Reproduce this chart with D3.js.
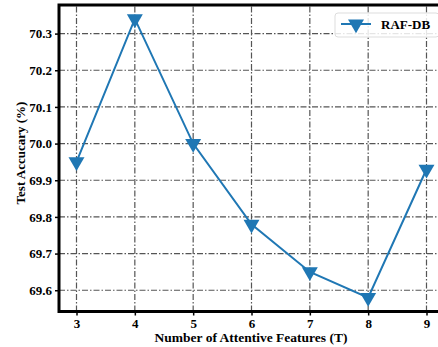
<!DOCTYPE html>
<html>
<head>
<meta charset="utf-8">
<script src="https://cdn.jsdelivr.net/npm/d3@7"></script>
<style>
  body { margin: 0; background: #fff; }
  svg { display: block; }
  svg text { font-family: "Liberation Serif", "Times New Roman", serif !important; }
</style>
</head>
<body>
<div id="chart"></div>
<script>
// dados do gráfico
const features = [3, 4, 5, 6, 7, 8, 9];
const accuracy = [69.95, 70.34, 70.00, 69.78, 69.65, 69.58, 69.93];
const yTicks = [69.6, 69.7, 69.8, 69.9, 70.0, 70.1, 70.2, 70.3];
const seriesName = "RAF-DB";

const width = 438;
const height = 347;
const margin = { top: 5, right: -6, bottom: 36, left: 59 };

const svg = d3.select("#chart")
    .append("svg")
    .attr("width", width)
    .attr("height", height);

const x = d3.scaleLinear()
    .domain([2.7, 9.3])
    .range([margin.left, width - margin.right]);

const y = d3.scaleLinear()
    .domain([69.542, 70.378])
    .range([height - margin.bottom + 0.5, margin.top]);

const gridColor = "#555";
const dash = "6,2,1.5,2";

// grade vertical
svg.append("g")
    .selectAll("line")
    .data(features)
    .join("line")
    .attr("x1", d => x(d)).attr("x2", d => x(d))
    .attr("y1", y.range()[0]).attr("y2", y.range()[1])
    .attr("stroke", gridColor)
    .attr("stroke-width", 1.2)
    .attr("stroke-dasharray", dash);

// grade horizontal
svg.append("g")
    .selectAll("line")
    .data(yTicks)
    .join("line")
    .attr("x1", x.range()[0]).attr("x2", x.range()[1])
    .attr("y1", d => y(d)).attr("y2", d => y(d))
    .attr("stroke", gridColor)
    .attr("stroke-width", 1.2)
    .attr("stroke-dasharray", dash);

// eixos
const xAxis = d3.axisBottom(x).tickValues(features).tickSize(4).tickPadding(3).tickFormat(d3.format("d"));
const gx = svg.append("g")
    .attr("transform", `translate(0,${y.range()[0]})`)
    .call(xAxis);
gx.select(".domain").remove();
gx.selectAll("line").attr("stroke", "#000").attr("stroke-width", 1.5);
gx.selectAll("text")
    .attr("fill", "#000")
    .style("font-size", "13px")
    .style("font-weight", "bold");

const yAxis = d3.axisLeft(y).tickValues(yTicks).tickSize(4).tickPadding(3).tickFormat(d3.format(".1f"));
const gy = svg.append("g")
    .attr("transform", `translate(${x.range()[0]},0)`)
    .call(yAxis);
gy.select(".domain").remove();
gy.selectAll("line").attr("stroke", "#000").attr("stroke-width", 1.5);
gy.selectAll("text")
    .attr("fill", "#000")
    .style("font-size", "13px")
    .style("font-weight", "bold");

// moldura
svg.append("rect")
    .attr("x", x.range()[0])
    .attr("y", y.range()[1])
    .attr("width", x.range()[1] - x.range()[0])
    .attr("height", y.range()[0] - y.range()[1])
    .attr("fill", "none")
    .attr("stroke", "#000")
    .attr("stroke-width", 3);

// linha
const color = "#1f77b4";
const line = d3.line()
    .x((d, i) => x(features[i]))
    .y(d => y(d));

svg.append("path")
    .datum(accuracy)
    .attr("fill", "none")
    .attr("stroke", color)
    .attr("stroke-width", 2)
    .attr("d", line);

const tri = d3.symbol().type(d3.symbolTriangle).size(110);
svg.append("g")
    .selectAll("path")
    .data(accuracy)
    .join("path")
    .attr("d", tri)
    .attr("transform", (d, i) => `translate(${x(features[i])},${y(d)}) rotate(180)`)
    .attr("fill", color);

// legenda
const lg = svg.append("g").attr("transform", "translate(335,13)");
lg.append("rect")
    .attr("width", 104).attr("height", 24)
    .attr("rx", 3)
    .attr("fill", "#fff")
    .attr("fill-opacity", 0.85)
    .attr("stroke", "#ddd");
lg.append("line")
    .attr("x1", 6).attr("x2", 36)
    .attr("y1", 11).attr("y2", 11)
    .attr("stroke", color).attr("stroke-width", 2);
lg.append("path")
    .attr("d", tri)
    .attr("transform", "translate(21,11) rotate(180)")
    .attr("fill", color);
lg.append("text")
    .attr("x", 46).attr("y", 16)
    .style("font-size", "13px")
    .style("font-weight", "bold")
    .text(seriesName);

// títulos dos eixos
svg.append("text")
    .attr("x", 251)
    .attr("y", 342)
    .attr("text-anchor", "middle")
    .style("font-size", "13.5px")
    .style("font-weight", "bold")
    .text("Number of Attentive Features (T)");

svg.append("text")
    .attr("transform", "translate(25,153) rotate(-90)")
    .attr("text-anchor", "middle")
    .style("font-size", "13px")
    .style("font-weight", "bold")
    .text("Test Accucary (%)");
</script>
</body>
</html>
